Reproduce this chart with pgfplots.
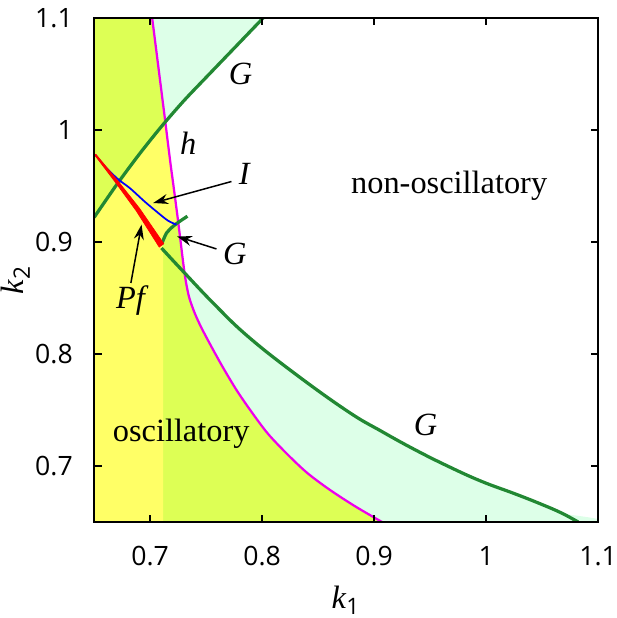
\documentclass[border=0pt]{standalone}
\usepackage{fontspec}
\setmainfont{Liberation Serif}
\newfontfamily\tickfont{Open Sans}
\usepackage{pgfplots}
\pgfplotsset{compat=1.18}
\usetikzlibrary{arrows.meta}

\definecolor{cyel}{RGB}{255,255,102}
\definecolor{cygr}{RGB}{221,255,85}
\definecolor{cmint}{RGB}{221,255,232}
\definecolor{cgreen}{RGB}{34,136,51}
\definecolor{cmag}{RGB}{238,0,238}

\newcommand\lbl{\fontsize{13}{15}\selectfont}

\begin{document}
\begin{tikzpicture}
\begin{axis}[
    scale only axis,
    width=202.4pt, height=202.4pt,
    xmin=0.65, xmax=1.1, ymin=0.65, ymax=1.1,
    xtick={0.7,0.8,0.9,1,1.1},
    ytick={0.7,0.8,0.9,1,1.1},
    tick align=inside,
    major tick length=3pt,
    axis line style={line width=0.8pt},
    tick style={line width=0.6pt, black},
    axis on top,
    /pgf/number format/assume math mode=true,
    ticklabel style={font=\tickfont\fontsize{10.7}{12}\selectfont, inner xsep=0pt},
    xticklabel style={yshift=-6.3pt},
    yticklabel style={xshift=-8.4pt},
    xlabel={\lbl\textit{k}\textsubscript{\tickfont 1}},
    ylabel={\lbl\textit{k}\textsubscript{\tickfont 2}},
    xlabel style={at={(axis description cs:0.5,-0.155)}, anchor=center, inner sep=1.5pt},
    ylabel style={at={(axis description cs:-0.156,0.48)}, anchor=center, inner sep=0.5pt},
]

% --- filled regions ---
% mint under the lower G curve
\addplot[fill=cmint, draw=none, smooth] coordinates {
    (0.7101,0.8946) (0.728,0.8753) (0.7577,0.844) (0.7875,0.8155) (0.8292,0.7825)
    (0.8768,0.7485) (0.9065,0.731) (0.9363,0.7146) (0.9661,0.6997) (0.9958,0.6863)
    (1.0256,0.6752) (1.0494,0.6658) (1.0673,0.658) (1.0821,0.65) (0.7101,0.65)
} -- cycle;
% mint above the upper G line, right of h
\addplot[fill=cmint, draw=none] coordinates {
    (0.7136,1.0068) (0.73,1.026) (0.75,1.047) (0.775,1.073) (0.8009,1.1)
    (0.7018,1.1) (0.7075,1.055)
} -- cycle;
% yellow-green left of h
\addplot[fill=cygr, draw=none] coordinates {
    (0.65,0.65) (0.65,1.1) (0.7018,1.1) (0.7075,1.055) (0.7131,1.0107) (0.7181,0.9705)
    (0.7205,0.9527) (0.7244,0.923) (0.727,0.902) (0.7297,0.880) (0.732,0.864)
    (0.735,0.850) (0.740,0.836) (0.746,0.823) (0.755,0.806) (0.765,0.788)
    (0.777,0.768) (0.790,0.749) (0.805,0.729) (0.822,0.711) (0.840,0.694)
    (0.860,0.679) (0.883,0.664) (0.907,0.65)
} -- cycle;
% yellow
\addplot[fill=cyel, draw=none] coordinates {
    (0.65,0.65) (0.65,0.922) (0.67,0.951) (0.69,0.978) (0.71,1.003) (0.7136,1.0068)
    (0.7181,0.9705) (0.7205,0.9527) (0.7244,0.923) (0.7251,0.9174)
    (0.7205,0.914) (0.7146,0.908) (0.7116,0.9015) (0.7116,0.65)
} -- cycle;

% --- curves ---
% h
\addplot[cmag, line width=0.9pt, smooth, tension=0.5] coordinates {
    (0.7018,1.1) (0.7075,1.055) (0.7131,1.0107) (0.7181,0.9705)
    (0.7205,0.9527) (0.7244,0.923) (0.727,0.902) (0.7297,0.880) (0.732,0.864)
    (0.735,0.850) (0.740,0.836) (0.746,0.823) (0.755,0.806) (0.765,0.788)
    (0.777,0.768) (0.790,0.749) (0.805,0.729) (0.822,0.711) (0.840,0.694)
    (0.860,0.679) (0.883,0.664) (0.907,0.65)
};
% upper G
\addplot[cgreen, line width=1.3pt, smooth] coordinates {
    (0.65,0.922) (0.67,0.951) (0.69,0.978) (0.71,1.003) (0.73,1.026)
    (0.75,1.047) (0.775,1.073) (0.8009,1.1)
};
% lower G
\addplot[cgreen, line width=1.3pt, smooth, tension=0.7] coordinates {
    (0.7101,0.8946) (0.728,0.8753) (0.7577,0.844) (0.7875,0.8155) (0.8292,0.7825)
    (0.8768,0.7485) (0.9065,0.731) (0.9363,0.7146) (0.9661,0.6997) (0.9958,0.6863)
    (1.0256,0.6752) (1.0494,0.6658) (1.0673,0.658) (1.0821,0.65)
};
% small G
\addplot[cgreen, line width=1.3pt, smooth] coordinates {
    (0.7101,0.8976) (0.7146,0.908) (0.7205,0.914) (0.7265,0.9185) (0.7333,0.923)
};
% I
\addplot[blue, line width=0.7pt, smooth] coordinates {
    (0.651,0.978) (0.66,0.967) (0.6714,0.956) (0.682,0.948) (0.6952,0.936)
    (0.7071,0.926) (0.716,0.919) (0.7235,0.9155)
};
% Pf (wedge)
\addplot[fill=red, draw=red, line width=0.3pt] coordinates {
    (0.6515,0.9783) (0.671,0.9547) (0.6905,0.930) (0.7121,0.8985)
    (0.7081,0.8955) (0.6875,0.928) (0.669,0.9533) (0.6505,0.9777)
} -- cycle;

% --- labels and arrows ---
\draw[-{Stealth[length=6pt,width=4pt]}, line width=0.6pt] (axis cs:0.7726,0.954) -- (axis cs:0.7027,0.9348);
\draw[-{Stealth[length=6pt,width=4pt]}, line width=0.6pt] (axis cs:0.7592,0.8938) -- (axis cs:0.7240,0.905);
\draw[-{Stealth[length=6pt,width=4pt]}, line width=0.6pt] (axis cs:0.6828,0.8634) -- (axis cs:0.6923,0.9155);

\node[anchor=base] at (axis cs:0.7808,1.0405) {\lbl\textit{G}};
\node[anchor=base] at (axis cs:0.734,0.978) {\lbl\textit{h}};
\node[anchor=base] at (axis cs:0.7845,0.951) {\lbl\textit{I}};
\node[anchor=base] at (axis cs:0.7756,0.8797) {\lbl\textit{G}};
\node[anchor=base] at (axis cs:0.6842,0.841) {\lbl\textit{Pf}};
\node[anchor=base] at (axis cs:0.946,0.727) {\lbl\textit{G}};
\node[anchor=base] at (axis cs:0.967,0.9437) {\lbl non-oscillatory};
\node[anchor=base] at (axis cs:0.7277,0.7223) {\lbl oscillatory};

\end{axis}
\end{tikzpicture}
\end{document}
